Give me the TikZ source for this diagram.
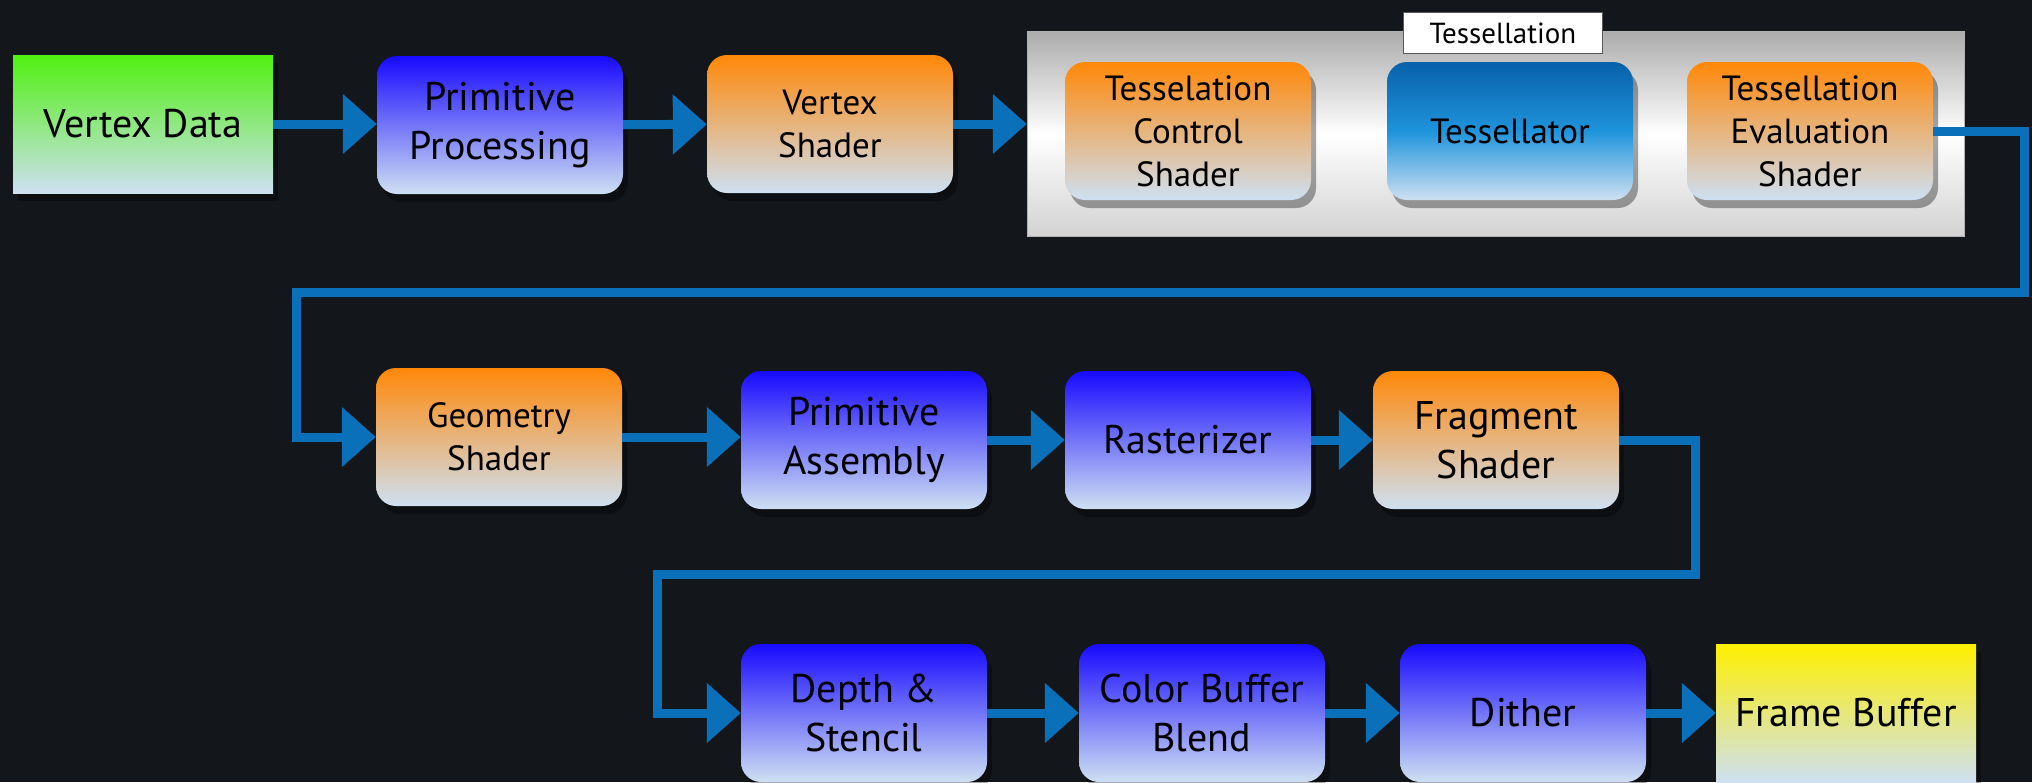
\documentclass[tikz,border=0pt]{standalone}
\usepackage{fontspec}
\setmainfont{PT Sans}
\usetikzlibrary{arrows.meta,shadows}

\definecolor{bgdark}{RGB}{19,23,27}
\definecolor{flowblue}{RGB}{10,112,186}
\definecolor{paleend}{RGB}{206,224,242}
\definecolor{shadorange}{RGB}{255,136,8}
\definecolor{fixblue}{RGB}{24,10,255}
\definecolor{datagreen}{RGB}{80,240,16}
\definecolor{bufyellow}{RGB}{255,240,0}
\definecolor{tessdeep}{RGB}{8,96,170}
\definecolor{tessmid}{RGB}{30,148,220}

\newcommand\stagebig{\fontsize{40}{49}\selectfont}
\newcommand\stagesmall{\fontsize{35}{43}\selectfont}

\tikzset{
  stage/.style={minimum width=246pt, minimum height=138pt, align=center, text=black,
    drop shadow={shadow xshift=5pt, shadow yshift=-8pt, opacity=.35, fill=black}},
  shaderbox/.style={stage, rounded corners=20pt, top color=shadorange, bottom color=paleend, font=\stagesmall},
  fixedbox/.style={stage, rounded corners=20pt, top color=fixblue, bottom color=paleend, font=\stagebig},
  endbox/.style={stage, minimum width=260pt, bottom color=paleend, font=\stagebig},
  flow/.style={draw=flowblue, line width=9pt, -{Triangle[length=34pt,width=58pt]}},
}

\begin{document}
\begin{tikzpicture}[x=1pt,y=-1pt]
  \fill[bgdark] (0,0) rectangle (2032,782);
  \useasboundingbox (0,0) rectangle (2032,782);

  \node[endbox, top color=datagreen, bottom color=paleend] (vdata) at (143,124) {Vertex Data};
  \node[fixedbox] (pproc) at (500,125) {Primitive\\Processing};
  \node[shaderbox] (vshader) at (830,124) {Vertex\\Shader};

  \node[draw=gray!60, line width=1.5pt, minimum width=937pt, minimum height=205pt,
    top color=gray!65, bottom color=gray!35, middle color=white] (tessgrp) at (1496,134) {};
  \node[draw=gray!70!black, fill=white, line width=1.5pt, inner sep=3pt,
    minimum width=199pt, minimum height=41pt, font=\fontsize{29}{34}\selectfont] (tesslbl) at (1503,33) {Tessellation};
  \node[shaderbox] (tcs) at (1188,131) {Tesselation\\Control\\Shader};
  \node[stage, rounded corners=20pt, top color=tessdeep, bottom color=paleend, middle color=tessmid, font=\stagesmall] (tessr) at (1510,131) {Tessellator};
  \node[shaderbox] (tes) at (1810,131) {Tessellation\\Evaluation\\Shader};

  \node[shaderbox] (geo) at (499,437) {Geometry\\Shader};
  \node[fixedbox] (passm) at (864,440) {Primitive\\Assembly};
  \node[fixedbox] (rast) at (1188,440) {Rasterizer};
  \node[shaderbox, font=\stagebig] (frag) at (1496,440) {Fragment\\Shader};

  \node[fixedbox] (depth) at (864,713) {Depth \&\\Stencil};
  \node[fixedbox] (cbb) at (1202,713) {Color Buffer\\Blend};
  \node[fixedbox] (dither) at (1523,713) {Dither};
  \node[endbox, top color=bufyellow, bottom color=paleend] (fbuf) at (1846,713) {Frame Buffer};

  \coordinate (wrapR) at (2024,292);
  \coordinate (wrapL) at (296,292);
  \coordinate (wrapR2) at (1695,574);
  \coordinate (wrapL2) at (657,574);

  \draw[flow] (vdata) -- (vdata -| pproc.west);
  \draw[flow] (pproc) -- (vshader);
  \draw[flow] (vshader.east) -- (vshader.east -| tessgrp.west);
  \draw[flow] (tes.east) -| (wrapR) -- (wrapL) |- (geo.west);
  \draw[flow] (geo.east) -- (geo.east -| passm.west);
  \draw[flow] (passm) -- (rast);
  \draw[flow] (rast) -- (frag);
  \draw[flow] (frag.east) -| (wrapR2) -- (wrapL2) |- (depth.west);
  \draw[flow] (depth) -- (cbb);
  \draw[flow] (cbb) -- (dither);
  \draw[flow] (dither) -- (fbuf);
\end{tikzpicture}
\end{document}
